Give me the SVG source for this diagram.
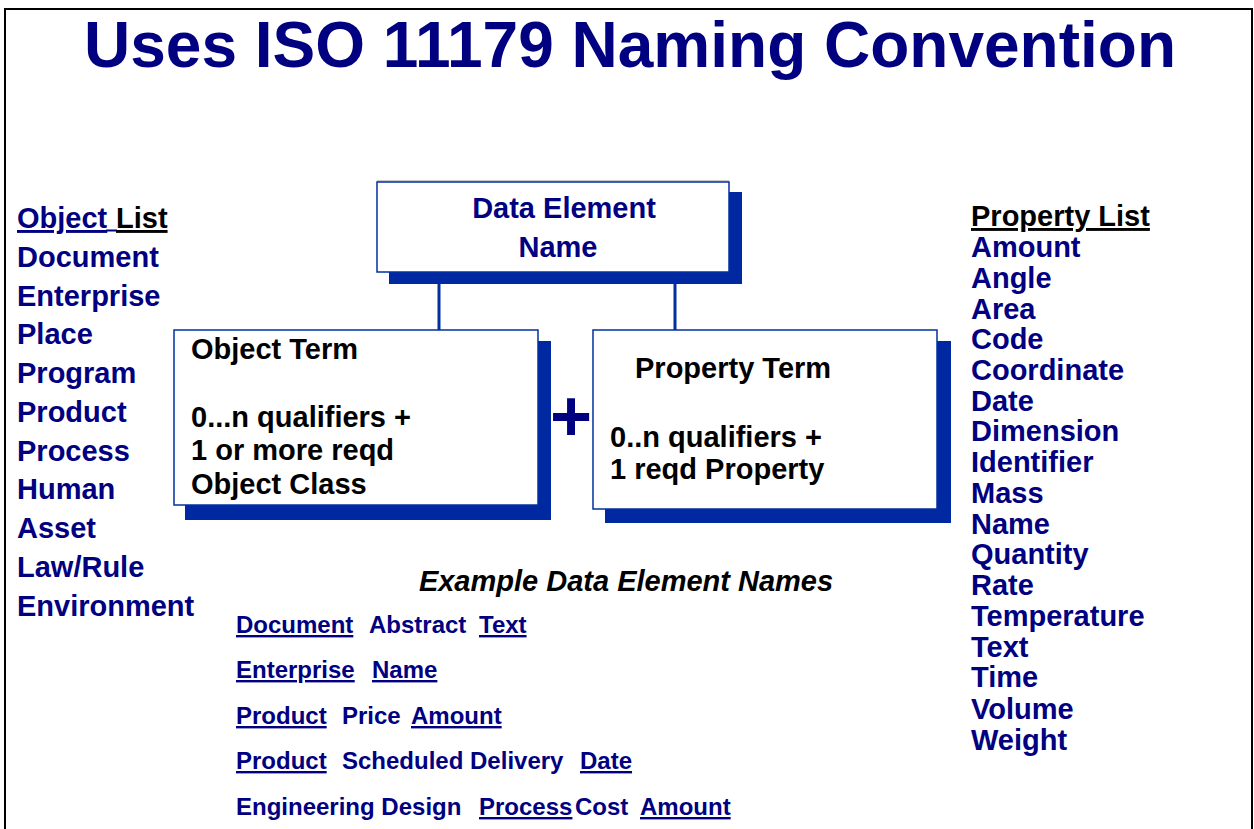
<svg xmlns="http://www.w3.org/2000/svg" width="1254" height="829" viewBox="0 0 1254 829">
<style>
text { font-family: "Liberation Sans", Arial, sans-serif; font-weight: bold; }
.title { font-size: 64px; fill: #000080; }
.list { font-size: 29px; fill: #000080; }
.box { font-size: 29px; }
.ex { font-size: 24px; fill: #000080; }
.u { text-decoration: underline; }
.nv { fill: #000080; }
.bk { fill: #000000; }
.shadow { fill: #0028A0; }
.frame { fill: #ffffff; stroke: #0030A0; stroke-width: 1.5; }
.conn { stroke: #0030A0; stroke-width: 3; fill: none; }
</style>
<rect x="0" y="0" width="1254" height="829" fill="#ffffff"/>
<path d="M5,829 V9 H1252 V829" fill="none" stroke="#000000" stroke-width="2"/>
<text class="title" x="630" y="67" text-anchor="middle">Uses ISO 11179 Naming Convention</text>

<g id="connectors">
  <line class="conn" x1="439" y1="284" x2="439" y2="331"/>
  <line class="conn" x1="675" y1="284" x2="675" y2="331"/>
</g>

<g id="data-element-name">
  <rect class="shadow" x="389" y="192" width="353" height="92"/>
  <line x1="377" y1="181" x2="729" y2="181" stroke="#999999" stroke-width="1"/>
  <rect class="frame" x="377" y="182" width="352" height="90"/>
  <text class="box nv" x="564" y="218" text-anchor="middle">Data Element</text>
  <text class="box nv" x="558" y="257" text-anchor="middle">Name</text>
</g>

<g id="object-term">
  <rect class="shadow" x="185" y="341" width="366" height="179"/>
  <rect class="frame" x="174" y="330" width="364" height="175"/>
  <text class="box bk" x="191" y="359">Object Term</text>
  <text class="box bk" x="191" y="427">0...n qualifiers +</text>
  <text class="box bk" x="191" y="460">1 or more reqd</text>
  <text class="box bk" x="191" y="494">Object Class</text>
</g>

<g id="plus">
  <text x="571" y="441" text-anchor="middle" font-size="72" class="nv">+</text>
</g>

<g id="property-term">
  <rect class="shadow" x="605" y="341" width="346" height="182"/>
  <rect class="frame" x="593" y="330" width="344" height="179"/>
  <text class="box bk" x="635" y="378">Property Term</text>
  <text class="box bk" x="610" y="447">0..n qualifiers +</text>
  <text class="box bk" x="610" y="479">1 reqd Property</text>
</g>

<g id="object-list">
  <text class="list u nv" x="17" y="228">Object</text>
  <line x1="106" y1="230.5" x2="117" y2="230.5" stroke="#000080" stroke-width="2"/>
  <text class="list u bk" x="116" y="228">List</text>
  <text class="list" x="17" y="267">Document</text>
  <text class="list" x="17" y="306">Enterprise</text>
  <text class="list" x="17" y="344">Place</text>
  <text class="list" x="17" y="383">Program</text>
  <text class="list" x="17" y="422">Product</text>
  <text class="list" x="17" y="461">Process</text>
  <text class="list" x="17" y="499">Human</text>
  <text class="list" x="17" y="538">Asset</text>
  <text class="list" x="17" y="577">Law/Rule</text>
  <text class="list" x="17" y="616">Environment</text>
</g>

<g id="property-list">
  <text class="list u bk" x="971" y="226">Property List</text>
  <text class="list" x="971" y="257">Amount</text>
  <text class="list" x="971" y="288">Angle</text>
  <text class="list" x="971" y="319">Area</text>
  <text class="list" x="971" y="349">Code</text>
  <text class="list" x="971" y="380">Coordinate</text>
  <text class="list" x="971" y="411">Date</text>
  <text class="list" x="971" y="441">Dimension</text>
  <text class="list" x="971" y="472">Identifier</text>
  <text class="list" x="971" y="503">Mass</text>
  <text class="list" x="971" y="534">Name</text>
  <text class="list" x="971" y="564">Quantity</text>
  <text class="list" x="971" y="595">Rate</text>
  <text class="list" x="971" y="626">Temperature</text>
  <text class="list" x="971" y="657">Text</text>
  <text class="list" x="971" y="687">Time</text>
  <text class="list" x="971" y="719">Volume</text>
  <text class="list" x="971" y="750">Weight</text>
</g>

<g id="examples">
  <text x="626" y="591" text-anchor="middle" font-size="29" font-style="italic" class="bk">Example Data Element Names</text>
  <text class="ex u" x="236" y="633">Document</text>
  <text class="ex" x="369" y="633">Abstract</text>
  <text class="ex u" x="479" y="633">Text</text>
  <text class="ex u" x="236" y="678">Enterprise</text>
  <text class="ex u" x="372" y="678">Name</text>
  <text class="ex u" x="236" y="724">Product</text>
  <text class="ex" x="342" y="724">Price</text>
  <text class="ex u" x="411" y="724">Amount</text>
  <text class="ex u" x="236" y="769">Product</text>
  <text class="ex" x="342" y="769">Scheduled Delivery</text>
  <text class="ex u" x="580" y="769">Date</text>
  <text class="ex" x="236" y="815">Engineering Design</text>
  <text class="ex u" x="479" y="815">Process</text>
  <text class="ex" x="575" y="815">Cost</text>
  <text class="ex u" x="640" y="815">Amount</text>
</g>
</svg>
